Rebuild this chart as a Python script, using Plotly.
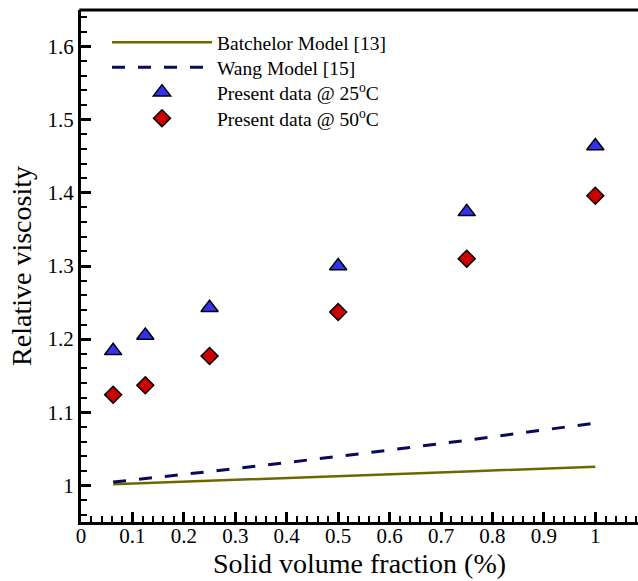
import plotly.graph_objects as go

# Data
phi_exp = [0.0625, 0.125, 0.25, 0.5, 0.75, 1.0]
visc_25C = [1.184, 1.205, 1.243, 1.300, 1.374, 1.464]
visc_50C = [1.124, 1.137, 1.177, 1.237, 1.310, 1.396]

phi_model = [0.0625, 0.125, 0.25, 0.5, 0.75, 1.0]
batchelor = [1.0016, 1.0031, 1.0063, 1.0127, 1.0191, 1.0256]
wang = [1.0046, 1.0093, 1.0190, 1.0396, 1.0617, 1.0853]

FONT = "Liberation Serif"

fig = go.Figure()
fig.add_trace(go.Scatter(x=phi_model, y=batchelor, mode="lines",
                         name="Batchelor Model [13]", legend="legend",
                         line=dict(color="#6b6800", width=2.5)))
fig.add_trace(go.Scatter(x=phi_model, y=wang, mode="lines",
                         name="Wang Model [15]", legend="legend2",
                         line=dict(color="#0a0a5c", width=3, dash="13px,13px")))
fig.add_trace(go.Scatter(x=phi_exp, y=visc_25C, mode="markers",
                         name="Present data @ 25<sup>o</sup>C", legend="legend3",
                         marker=dict(symbol="triangle-up", size=15, color="#3333ee",
                                     line=dict(color="black", width=1.5))))
fig.add_trace(go.Scatter(x=phi_exp, y=visc_50C, mode="markers",
                         name="Present data @ 50<sup>o</sup>C", legend="legend4",
                         marker=dict(symbol="diamond", size=13, color="#cc0000",
                                     line=dict(color="black", width=1.5))))

def leg(y):
    return dict(x=0.0467, y=y, xanchor="left", yanchor="top",
                bgcolor="rgba(0,0,0,0)", font=dict(family=FONT, size=19.5),
                itemwidth=100, tracegroupgap=0)

fig.update_layout(
    width=638, height=581,
    margin=dict(l=81, r=0, t=10, b=59, autoexpand=False),
    plot_bgcolor="white", paper_bgcolor="white",
    font=dict(family=FONT, color="black", size=20),
    showlegend=True,
    legend=leg(0.9746),
    legend2=leg(0.9258),
    legend3=leg(0.877),
    legend4=leg(0.8262),
)

# top frame line of the plot area
fig.add_shape(type="line", xref="paper", yref="paper", x0=-0.003, x1=1.01, y0=1, y1=1,
              line=dict(color="black", width=3), layer="above")

fig.update_xaxes(
    range=[0, 1.083], showgrid=False, zeroline=False, automargin=False,
    showline=True, linecolor="black", linewidth=3, mirror=False,
    tickmode="array", tickvals=[0, 0.1, 0.2, 0.3, 0.4, 0.5, 0.6, 0.7, 0.8, 0.9, 1],
    ticktext=["0", "0.1", "0.2", "0.3", "0.4", "0.5", "0.6", "0.7", "0.8", "0.9", "1"],
    ticks="inside", ticklen=10, tickwidth=2.5, tickcolor="black",
    minor=dict(ticks="inside", ticklen=6, tickwidth=1.5, tickcolor="black", dtick=0.02, tick0=0, showgrid=False),
    tickfont=dict(family=FONT, size=21), ticklabelstandoff=-7,
    title=dict(text="Solid volume fraction (%)", font=dict(family=FONT, size=28), standoff=4),
)
fig.update_yaxes(
    range=[0.95, 1.65], showgrid=False, zeroline=False, automargin=False,
    showline=True, linecolor="black", linewidth=3, mirror=False,
    tickmode="array", tickvals=[1.0, 1.1, 1.2, 1.3, 1.4, 1.5, 1.6],
    ticktext=["1", "1.1", "1.2", "1.3", "1.4", "1.5", "1.6"],
    ticks="inside", ticklen=10, tickwidth=2.5, tickcolor="black",
    minor=dict(ticks="inside", ticklen=6, tickwidth=1.5, tickcolor="black", dtick=0.02, tick0=0.96, showgrid=False),
    tickfont=dict(family=FONT, size=21),
    title=dict(text="Relative viscosity", font=dict(family=FONT, size=28), standoff=8),
)

fig.write_html("out.html", config={"displayModeBar": False},
               post_script="document.body.style.margin='0';document.body.style.overflow='hidden';document.documentElement.style.overflow='hidden';")
